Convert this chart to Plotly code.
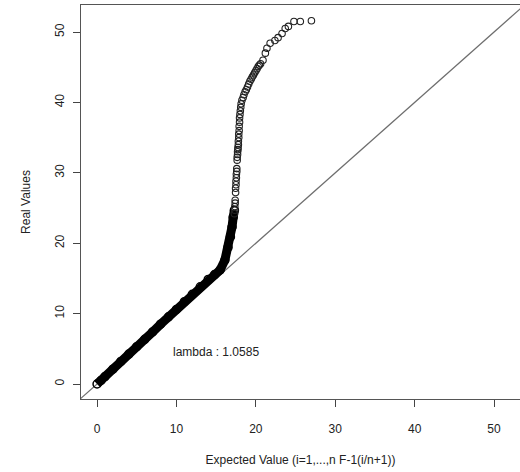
import plotly.graph_objects as go

# Dense lower part of the QQ curve (expected, real)
dense_expected = [0.0, 0.5, 1.0, 2.0, 3.0, 4.0, 5.0, 6.0, 7.0, 8.0, 9.0, 10.0, 11.0, 12.0,
                  13.0, 14.0, 14.8, 15.5, 16.1, 16.5, 16.8, 17.0, 17.15, 17.3]
dense_real = [0.0, 0.5, 1.05, 2.1, 3.2, 4.25, 5.3, 6.35, 7.4, 8.5, 9.55, 10.6, 11.7, 12.75,
              13.8, 14.85, 15.55, 16.2, 17.6, 19.4, 20.9, 22.3, 23.7, 24.7]

# Sparse upper tail (expected, real)
tail_expected = [17.3, 17.35, 17.35, 17.4, 17.4, 17.45, 17.45, 17.5, 17.5, 17.55, 17.55, 17.6, 17.6,
                 17.65, 17.65, 17.7, 17.7, 17.75, 17.75, 17.8, 17.8, 17.85, 17.85, 17.9, 17.9,
                 17.95, 17.95, 18.0, 18.05, 18.1, 18.15, 18.25,
                 18.4, 18.5, 18.65, 18.8, 18.95, 19.1, 19.25, 19.4, 19.55, 19.7, 19.85, 20.0,
                 20.15, 20.3, 20.45, 20.6,
                 20.9, 21.2, 21.4, 21.8, 22.4, 22.8, 23.3, 23.7, 24.1, 24.8, 25.6, 27.0]
tail_real = [24.2, 24.7, 25.2, 25.7, 26.1, 27.2, 27.8, 28.3, 28.8, 29.3, 29.8, 30.2, 30.6,
             31.8, 32.2, 32.6, 33.0, 33.3, 33.6, 34.0, 34.5, 35.0, 35.5, 36.0, 36.6,
             37.2, 37.8, 38.3, 38.8, 39.3, 39.8, 40.3,
             40.7, 41.1, 41.5, 41.8, 42.2, 42.6, 43.0, 43.3, 43.6, 43.9, 44.2, 44.5,
             44.8, 45.1, 45.3, 45.5,
             46.0, 47.0, 47.7, 48.4, 48.8, 49.2, 49.8, 50.5, 50.8, 51.5, 51.5, 51.6]

# Reference line y = x
ref_x = [-3, 60]
ref_y = [-3, 60]

x_ticks = [0, 10, 20, 30, 40, 50]
y_ticks = [0, 10, 20, 30, 40, 50]

lambda_text = "lambda : 1.0585"
lambda_pos = (15, 4.5)

FONT = "Liberation Sans, Arial, Helvetica, sans-serif"

fig = go.Figure()
fig.add_trace(go.Scatter(x=ref_x, y=ref_y, mode="lines",
                         line=dict(color="#6e6e6e", width=1.2), hoverinfo="skip"))
fig.add_trace(go.Scatter(x=dense_expected, y=dense_real, mode="lines+markers",
                         line=dict(color="black", width=9),
                         marker=dict(symbol="circle-open", size=8, color="black",
                                     line=dict(width=1.5))))
fig.add_trace(go.Scatter(x=tail_expected, y=tail_real, mode="markers",
                         marker=dict(symbol="circle-open", size=6.5, color="#222",
                                     line=dict(width=1.1))))

fig.add_annotation(x=lambda_pos[0], y=lambda_pos[1], text=lambda_text, showarrow=False,
                   xref="x", yref="y", font=dict(size=12, color="#222", family=FONT))

fig.update_layout(
    width=520, height=472,
    margin=dict(l=81, r=0, t=5, b=73),
    paper_bgcolor="white", plot_bgcolor="white",
    showlegend=False,
    font=dict(family=FONT, size=12, color="#222"),
    xaxis=dict(range=[-2.02, 53.27], tickvals=x_ticks, ticks="outside", ticklen=7,
               tickcolor="#444", showgrid=False, zeroline=False,
               showline=True, linecolor="#555", linewidth=1, mirror=True,
               ticklabelstandoff=12,
               title=dict(text="Expected Value (i=1,...,n F-1(i/n+1))",
                          font=dict(size=12), standoff=20)),
    yaxis=dict(range=[-2.13, 53.84], tickvals=y_ticks, ticks="outside", ticklen=7,
               tickcolor="#444", showgrid=False, zeroline=False,
               showline=True, linecolor="#555", linewidth=1, mirror=False,
               tickangle=-90, ticklabelstandoff=4,
               title=dict(text="Real Values", font=dict(size=12), standoff=20)),
)

fig.write_html("out.html")
